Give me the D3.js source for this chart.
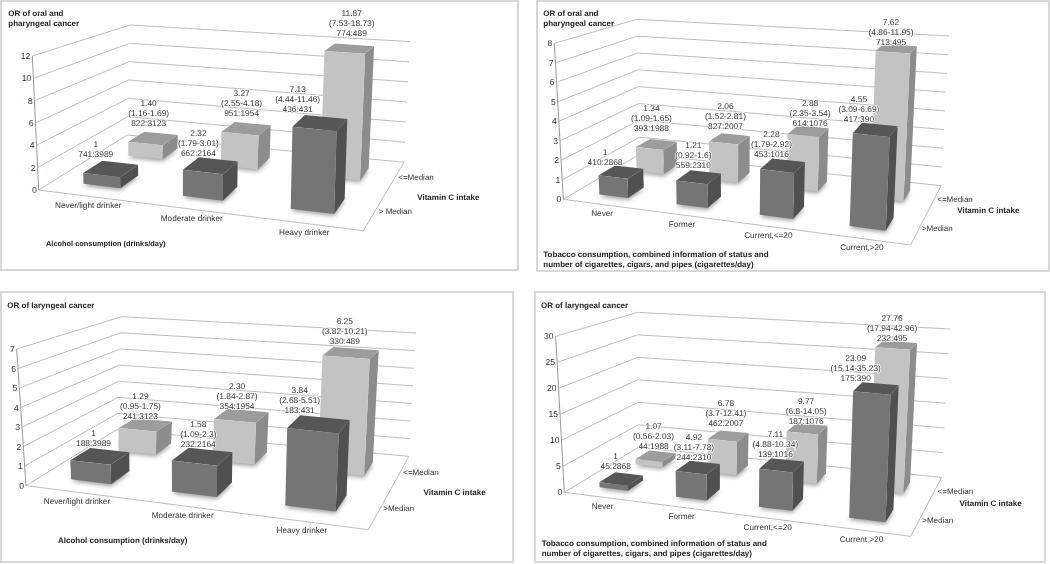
<!DOCTYPE html>
<html><head><meta charset="utf-8">
<script src="https://cdn.jsdelivr.net/npm/d3@7/dist/d3.min.js"></script>
<style>html,body{margin:0;padding:0;background:#fff}svg{display:block;filter:blur(.35px)}text{font-family:"Liberation Sans",Arial,sans-serif;fill:#333;text-rendering:geometricPrecision}</style>
</head><body><svg id="c" width="1050" height="564"></svg>
<script>
// ---------- data ----------
const alcoholCategories = ["Never/light drinker","Moderate drinker","Heavy drinker"];
const tobaccoCategories = ["Never","Former","Current,<=20","Current,>20"];

const oralAlcoholLow  = [1.40,3.27,11.87];
const oralAlcoholHigh = [1,2.32,7.13];
const oralAlcoholLowText  = [["1.40","(1.16-1.69)","822:3123"],["3.27","(2.55-4.18)","951:1954"],["11.87","(7.53-18.73)","774:489"]];
const oralAlcoholHighText = [["1","741:3989"],["2.32","(1.79-3.01)","662:2164"],["7.13","(4.44-11.46)","436:431"]];

const oralTobaccoLow  = [1.34,2.06,2.88,7.62];
const oralTobaccoHigh = [1,1.21,2.28,4.55];
const oralTobaccoLowText  = [["1.34","(1.09-1.65)","393:1988"],["2.06","(1.52-2.81)","827:2007"],["2.88","(2.35-3.54)","614:1076"],["7.62","(4.86-11.95)","713:495"]];
const oralTobaccoHighText = [["1","410:2868"],["1.21","(0.92-1.6)","559:2310"],["2.28","(1.79-2.92)","453:1016"],["4.55","(3.09-6.69)","417:390"]];

const larynxAlcoholLow  = [1.29,2.30,6.25];
const larynxAlcoholHigh = [1,1.58,3.84];
const larynxAlcoholLowText  = [["1.29","(0.95-1.75)","241:3123"],["2.30","(1.84-2.87)","354:1954"],["6.25","(3.82-10.21)","330:489"]];
const larynxAlcoholHighText = [["1","188:3989"],["1.58","(1.09-2.3)","232:2164"],["3.84","(2.68-5.51)","183:431"]];

const larynxTobaccoLow  = [1.07,6.78,9.77,27.76];
const larynxTobaccoHigh = [1,4.92,7.11,23.09];
const larynxTobaccoLowText  = [["1.07","(0.56-2.03)","44:1988"],["6.78","(3.7-12.41)","462:2007"],["9.77","(6.8-14.05)","187:1076"],["27.76","(17.94-42.96)","232:495"]];
const larynxTobaccoHighText = [["1","45:2868"],["4.92","(3.11-7.78)","244:2310"],["7.11","(4.88-10.34)","139:1016"],["23.09","(15.14-35.23)","175:390"]];

const oralTicks12 = [0,2,4,6,8,10,12];
const oralTicks8 = [0,1,2,3,4,5,6,7,8];
const larynxTicks7 = [0,1,2,3,4,5,6,7];
const larynxTicks30 = [0,5,10,15,20,25,30];

// ---------- layout ----------
const panels = [
 {box:[1,1,518,270], off:[0,0], cats:alcoholCategories, low:oralAlcoholLow, high:oralAlcoholHigh, lowText:oralAlcoholLowText, highText:oralAlcoholHighText, ticks:oralTicks12,
  floor:[[116,570],[1090,692],[1212,487],[382,405]], top:[[97,168],[1105,260],[1230,125],[390,75]],
  pad:0.62, backDu:0.007,
  nudgeLow:[[-12.3,-3.3],[-11,-3.7],[-2.7,-5.3]], nudgeHigh:[[-24.3,-2],[-19.7,0.3],[-28.3,-1.3]],
  series:["> Median","<=Median"], serPos:[[1186,633],[1248,531]], vit:[1345,590], title:["OR of oral and","pharyngeal cancer"], titlePos:[25,38], xTitle:["Alcohol consumption (drinks/day)"], xPos:[138,729], xSize:7.4},
 {box:[537,1,1049,271], off:[525,0], cats:tobaccoCategories, low:oralTobaccoLow, high:oralTobaccoHigh, lowText:oralTobaccoLowText, highText:oralTobaccoHighText, ticks:oralTicks8,
  floor:[[115,598],[1157,735],[1248,557],[345,462]], top:[[88,130],[1182,230],[1272,108],[335,58]],
  pad:0.62, backDu:0,
  nudgeLow:[[-12,-5],[-10,-1.3],[-3,2.7],[-9,3.7]], nudgeHigh:[[-24,1.7],[-12.3,0],[-17,0.3],[-20.7,1.7]],
  series:[">Median","<=Median"], serPos:[[1237,684],[1290,597]], vit:[1390,631], title:["OR of oral and","pharyngeal cancer"], titlePos:[55,38], xTitle:["Tobacco consumption, combined information of status and","number of cigarettes, cigars, and pipes (cigarettes/day)"], xPos:[55,762], xSize:8},
 {box:[1,292,513,562], off:[0,284], cats:alcoholCategories, low:larynxAlcoholLow, high:larynxAlcoholHigh, lowText:larynxAlcoholLowText, highText:larynxAlcoholHighText, ticks:larynxTicks7,
  floor:[[78,605],[1105,737],[1227,517],[350,437]], top:[[50,195],[1125,296],[1248,147],[365,98]],
  pad:0.59, backDu:0.012,
  nudgeLow:[[-13,3.3],[-11,2.7],[-11,-0.3]], nudgeHigh:[[-16,0.3],[-12,1],[-25,-0.3]],
  series:[">Median","<=Median"], serPos:[[1196,673],[1263,565]], vit:[1364,624], title:["OR of laryngeal cancer"], titlePos:[22,63], xTitle:["Alcohol consumption (drinks/day)"], xPos:[174,768], xSize:8},
 {box:[535,292,1045,562], off:[525,284], cats:tobaccoCategories, low:larynxTobaccoLow, high:larynxTobaccoHigh, lowText:larynxTobaccoLowText, highText:larynxTobaccoHighText, ticks:larynxTicks30,
  floor:[[118,625],[1157,757],[1250,580],[340,490]], top:[[92,157],[1180,247],[1275,135],[338,85]],
  pad:0.62, backDu:0,
  nudgeLow:[[-8.7,0.7],[-8.3,-1.3],[-6,3.7],[-8,3.3]], nudgeHigh:[[-13.3,-1.3],[-10.7,1.7],[-12,1],[-24.7,1.3]],
  series:[">Median","<=Median"], serPos:[[1238,708],[1291,622]], vit:[1397,656], title:["OR of laryngeal cancer"], titlePos:[48,63], xTitle:["Tobacco consumption, combined information of status and","number of cigarettes, cigars, and pipes (cigarettes/day)"], xPos:[50,778], xSize:8}
];
const pal = {
 high:{front:"#757575",top:"#565656",side:"#505050"},
 low:{front:"#c3c3c3",top:"#9c9c9c",side:"#8c8c8c"}
};

function homography(q){
 const [[x0,y0],[x1,y1],[x2,y2],[x3,y3]]=q;
 const dx1=x1-x2,dx2=x3-x2,sx=x0-x1+x2-x3,dy1=y1-y2,dy2=y3-y2,sy=y0-y1+y2-y3;
 const det=dx1*dy2-dx2*dy1,g=(sx*dy2-dx2*sy)/det,h=(dx1*sy-sx*dy1)/det;
 const a=x1-x0+g*x1,b=x3-x0+h*x3,d=y1-y0+g*y1,e=y3-y0+h*y3;
 return (u,v)=>{const w=g*u+h*v+1;return [(a*u+b*v+x0)/w,(d*u+e*v+y0)/w];};
}

const svg=d3.select("#c");
const defs=svg.append("defs");
defs.append("filter").attr("id","soft").attr("x","-30%").attr("y","-30%").attr("width","160%").attr("height","160%")
  .append("feGaussianBlur").attr("stdDeviation",2);

panels.forEach(p=>{
 const g=svg.append("g");
 g.append("rect").attr("x",p.box[0]).attr("y",p.box[1]).attr("width",p.box[2]-p.box[0]).attr("height",p.box[3]-p.box[1])
  .attr("fill","#fff").attr("stroke","#d4d4d4").attr("stroke-width",1.8);
 const P=(a)=>[a[0]/3+p.off[0],a[1]/3+p.off[1]];
 const fl=p.floor.map(P), tp0=p.top.map(P);
 const F=homography(fl);
 const vec=tp0.map((c,i)=>[c[0]-fl[i][0],c[1]-fl[i][1]]);
 const maxV=d3.max(p.ticks);
 const yS=d3.scaleLinear().domain([0,maxV]).range([0,1]);
 const uS=d3.scaleBand().domain(p.cats).range([0,1]).paddingInner(p.pad).paddingOuter(0.31);
 const vS=d3.scaleBand().domain(["high","low"]).range([0,1]).paddingInner(0.58).paddingOuter(0.31);
 const pt=(u,v,val)=>{
   const a=F(u,v),t=yS(val);
   const k=i=>(1-u)*(1-v)*vec[0][i]+u*(1-v)*vec[1][i]+u*v*vec[2][i]+(1-u)*v*vec[3][i];
   return [a[0]+k(0)*t,a[1]+k(1)*t];};
 const line=d3.line();
 const gridC="#b5b5b5";
 p.ticks.forEach(t=>{
  g.append("path").attr("d",line([pt(0,0,t),pt(0,1,t),pt(1,1,t)])).attr("fill","none").attr("stroke",gridC).attr("stroke-width",0.9);
  const q=pt(0,0,t);
  g.append("text").attr("x",q[0]-2).attr("y",q[1]+3).attr("text-anchor","end").attr("font-size",8.6).text(t);
 });
 g.append("path").attr("d",line([pt(0,0,0),pt(1,0,0),pt(1,1,0)])).attr("fill","none").attr("stroke",gridC).attr("stroke-width",0.9);
 g.append("path").attr("d",line([pt(0,0,0),pt(0,0,maxV)])).attr("fill","none").attr("stroke","#999").attr("stroke-width",1);

 const du=s=>s==="low"?p.backDu:0;
 ["low","high"].forEach(s=>{
  const vals=p[s], v0=vS(s), v1=v0+vS.bandwidth(), c=pal[s];
  p.cats.forEach((cat,i)=>{
   const u0=uS(cat)+du(s), u1=u0+uS.bandwidth(), val=vals[i];
   g.append("path").attr("d",line([pt(u0,v0,0),pt(u1,v0,0),pt(u1,v1,0),pt(u0,v1,0)])+"Z")
    .attr("fill","#777").attr("opacity",0.7).attr("filter","url(#soft)").attr("transform","translate(0,2)");
   g.append("path").attr("d",line([pt(u1,v0,0),pt(u1,v1,0),pt(u1,v1,val),pt(u1,v0,val)])+"Z").attr("fill",c.side);
   g.append("path").attr("d",line([pt(u0,v0,val),pt(u1,v0,val),pt(u1,v1,val),pt(u0,v1,val)])+"Z").attr("fill",c.top);
   g.append("path").attr("d",line([pt(u0,v0,0),pt(u1,v0,0),pt(u1,v0,val),pt(u0,v0,val)])+"Z").attr("fill",c.front);
  });
 });
 ["low","high"].forEach(s=>{
  const vals=p[s], v0=vS(s), v1=v0+vS.bandwidth(), txt=p[s+"Text"], nud=p[s==="low"?"nudgeLow":"nudgeHigh"];
  p.cats.forEach((cat,i)=>{
   const um=uS(cat)+du(s)+uS.bandwidth()/2, a=pt(um,v1,vals[i]), L=txt[i], n=nud[i];
   // first line is offset from the bar's top-back centre
   const x=a[0]+n[0], yTop=a[1]-4-(L.length-1)*10+n[1];
   const t=g.append("text").attr("text-anchor","middle").attr("font-size",8.4)
     .style("paint-order","stroke").style("stroke","#fff").style("stroke-width","1.4px");
   L.forEach((line,k)=>t.append("tspan").attr("x",x).attr("y",yTop+k*10).text(line));
  });
 });
 p.cats.forEach(cat=>{
  const q=F(uS(cat)+uS.bandwidth()/2,0);
  g.append("text").attr("x",q[0]+1).attr("y",q[1]+12).attr("text-anchor","middle").attr("font-size",8.2).text(cat);
 });
 p.series.forEach((s,i)=>{const q=P(p.serPos[i]);
  g.append("text").attr("x",q[0]).attr("y",q[1]+3).attr("text-anchor","middle").attr("font-size",8).text(s);});
 const tb=(str,x,y,size,anchor)=>g.append("text").attr("x",x).attr("y",y).attr("text-anchor",anchor||"start").attr("font-size",size).attr("font-weight","bold").style("fill","#222").text(str);
 const vp=P(p.vit); tb("Vitamin C intake",vp[0],vp[1]+3,8,"middle");
 const tp=P(p.titlePos); p.title.forEach((t,i)=>tb(t,tp[0],tp[1]+3+i*10,8));
 const xp=P(p.xPos); p.xTitle.forEach((t,i)=>tb(t,xp[0],xp[1]+3+i*10,p.xSize));
});
</script></body></html>
